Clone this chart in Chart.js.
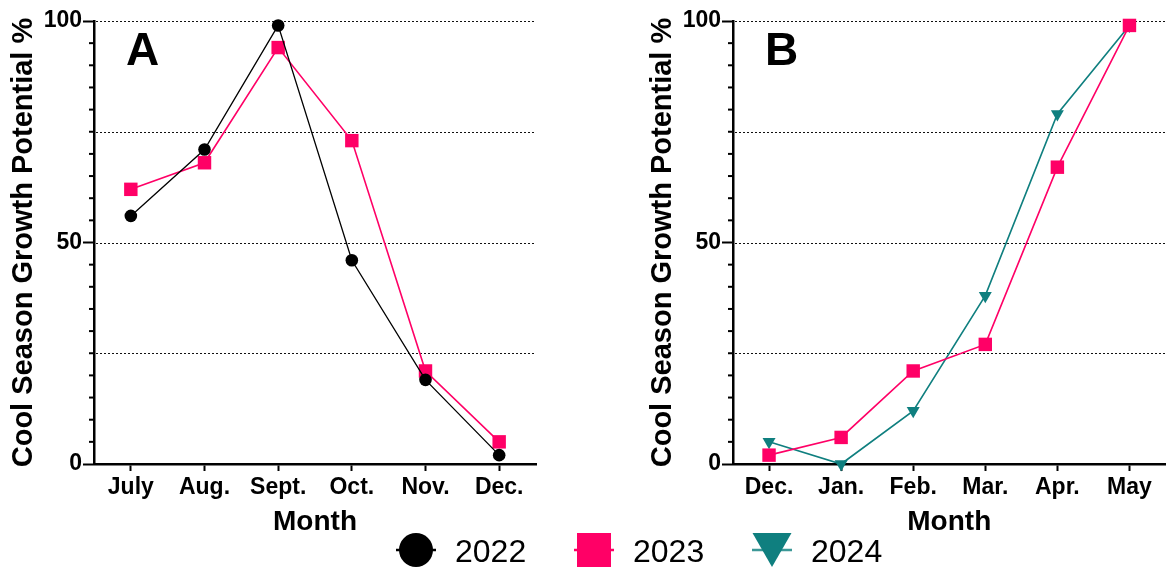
<!DOCTYPE html>
<html>
<head>
<meta charset="utf-8">
<script src="https://cdn.jsdelivr.net/npm/chart.js@4.4.1/dist/chart.umd.min.js"></script>
<style>
  html, body { margin: 0; padding: 0; background: #fff; }
  #wrap { position: relative; width: 1175px; height: 569px; overflow: hidden; }
  .panel { position: absolute; top: 0; height: 540px; }
  #pa { left: 0; width: 560px; }
  #pb { left: 639px; width: 536px; }
  #legend { position: absolute; left: 0; top: 525px; }
</style>
</head>
<body>
<div id="wrap">
  <div class="panel" id="pa"><canvas id="chartA"></canvas></div>
  <div class="panel" id="pb"><canvas id="chartB"></canvas></div>
  <canvas id="legend" width="1175" height="44"></canvas>
</div>
<script>
// Month categories for each panel
const monthsFall = ['July', 'Aug.', 'Sept.', 'Oct.', 'Nov.', 'Dec.'];
const monthsSpring = ['Dec.', 'Jan.', 'Feb.', 'Mar.', 'Apr.', 'May'];

// Cool season growth potential (%) by year
const fall2022 = [56, 71, 99, 46, 19, 2];
const fall2023 = [62, 68, 94, 73, 21, 5];
const spring2023 = [2, 6, 21, 27, 67, 99];
const spring2024 = [5, 0, 12, 38, 79, 99];

// Axis tick values
const yLabelledTicks = [0, 50, 100];
const yDottedLevels = [25, 50, 75, 100];

const FONT = '"Liberation Sans", Arial, Helvetica, sans-serif';
const COLORS = { '2022': '#000000', '2023': '#FF0066', '2024': '#0F7F7F' };

// Dotted reference lines, minor y ticks and the panel letter
const axisDecor = {
  id: 'axisDecor',
  beforeDatasetsDraw(chart) {
    const { ctx, chartArea: { left, right }, scales: { y } } = chart;
    ctx.save();
    ctx.strokeStyle = '#111';
    ctx.lineWidth = 1;
    ctx.setLineDash([2, 2]);
    yDottedLevels.forEach(v => {
      const py = Math.round(y.getPixelForValue(v)) + 0.5;
      ctx.beginPath();
      ctx.moveTo(left + 2, py);
      ctx.lineTo(right, py);
      ctx.stroke();
    });
    ctx.restore();
  },
  afterDraw(chart, args, opts) {
    const { ctx, chartArea: { left, top }, scales: { y } } = chart;
    ctx.save();
    ctx.strokeStyle = '#000';
    ctx.lineWidth = 2;
    for (let v = 0; v <= 100; v += 5) {
      if (yLabelledTicks.includes(v)) continue;
      const py = y.getPixelForValue(v);
      ctx.beginPath();
      ctx.moveTo(left - 5, py);
      ctx.lineTo(left, py);
      ctx.stroke();
    }
    ctx.fillStyle = '#000';
    ctx.font = 'bold 46px ' + FONT;
    ctx.textBaseline = 'alphabetic';
    ctx.textAlign = 'left';
    ctx.fillText(opts.letter, left + 32, top + 44);
    ctx.restore();
  }
};

function series(label, data, style, radius, width) {
  return {
    label,
    data,
    borderColor: COLORS[label],
    backgroundColor: COLORS[label],
    borderWidth: width,
    pointStyle: style,
    pointRadius: radius,
    pointHoverRadius: radius,
    pointBorderWidth: 0,
    pointRotation: style === 'triangle' ? 180 : 0,
    tension: 0,
    clip: false
  };
}

function makeChart(id, labels, datasets, letter, rightPad) {
  return new Chart(document.getElementById(id), {
    type: 'line',
    data: { labels, datasets },
    plugins: [axisDecor],
    options: {
      responsive: true,
      maintainAspectRatio: false,
      animation: false,
      events: [],
      layout: { padding: { top: 21, right: rightPad, bottom: 0, left: 0 } },
      plugins: {
        legend: { display: false },
        tooltip: { enabled: false },
        axisDecor: { letter }
      },
      scales: {
        x: {
          type: 'category',
          offset: true,
          afterFit: s => { s.height = 76; },
          ticks: { color: '#000', padding: 3, maxRotation: 0, autoSkip: false,
                   font: { family: FONT, size: 23, weight: 'bold' } },
          grid: { drawOnChartArea: false, drawTicks: true, offset: false,
                  tickLength: 7, tickWidth: 2, tickColor: '#000' },
          border: { display: true, color: '#000', width: 2.5 },
          title: { display: true, text: 'Month', color: '#000',
                   font: { family: FONT, size: 28, weight: 'bold' },
                   padding: { top: 0, bottom: 1 } }
        },
        y: {
          min: 0,
          max: 100,
          afterFit: s => { s.width = 94; },
          ticks: {
            stepSize: 5, autoSkip: false, color: '#000', padding: 1,
            font: { family: FONT, size: 23, weight: 'bold' },
            callback: v => (yLabelledTicks.includes(v) ? v : '')
          },
          grid: {
            drawOnChartArea: false, drawTicks: true, tickLength: 11, tickWidth: 2,
            tickColor: c => (c.tick && yLabelledTicks.includes(c.tick.value) ? '#000' : 'rgba(0,0,0,0)')
          },
          border: { display: true, color: '#000', width: 2.5 },
          title: { display: true, text: 'Cool Season Growth Potential %', color: '#000',
                   font: { family: FONT, size: 29, weight: 'bold' },
                   padding: { top: 7, bottom: 0 } }
        }
      }
    }
  });
}

makeChart('chartA', monthsFall, [
  series('2022', fall2022, 'circle', 6.3, 1.3),
  series('2023', fall2023, 'rect', 9.5, 1.6)
], 'A', 24);

makeChart('chartB', monthsSpring, [
  series('2023', spring2023, 'rect', 9.5, 1.6),
  series('2024', spring2024, 'triangle', 7.5, 1.6)
], 'B', 0);

// Shared legend beneath both panels
(function drawLegend() {
  const cv = document.getElementById('legend');
  const ctx = cv.getContext('2d');
  const entries = [
    { label: '2022', style: 'circle', line: '#000000' },
    { label: '2023', style: 'rect', line: '#FF0066' },
    { label: '2024', style: 'triangle', line: '#3C9897' }
  ];
  const cy = 25;
  entries.forEach((e, i) => {
    const cx = 416 + i * 178;
    ctx.strokeStyle = e.line;
    ctx.lineWidth = 2.5;
    ctx.beginPath();
    ctx.moveTo(cx - 20, cy);
    ctx.lineTo(cx + 20, cy);
    ctx.stroke();
    ctx.fillStyle = COLORS[e.label];
    ctx.beginPath();
    if (e.style === 'circle') {
      ctx.arc(cx, cy, 17, 0, Math.PI * 2);
    } else if (e.style === 'rect') {
      ctx.rect(cx - 17, cy - 17, 34, 34);
    } else {
      ctx.moveTo(cx - 19.5, cy - 17);
      ctx.lineTo(cx + 19.5, cy - 17);
      ctx.lineTo(cx, cy + 17);
      ctx.closePath();
    }
    ctx.fill();
    ctx.fillStyle = '#000';
    ctx.font = '32px ' + FONT;
    ctx.textBaseline = 'alphabetic';
    ctx.fillText(e.label, cx + 39, 37);
  });
})();
</script>
</body>
</html>
